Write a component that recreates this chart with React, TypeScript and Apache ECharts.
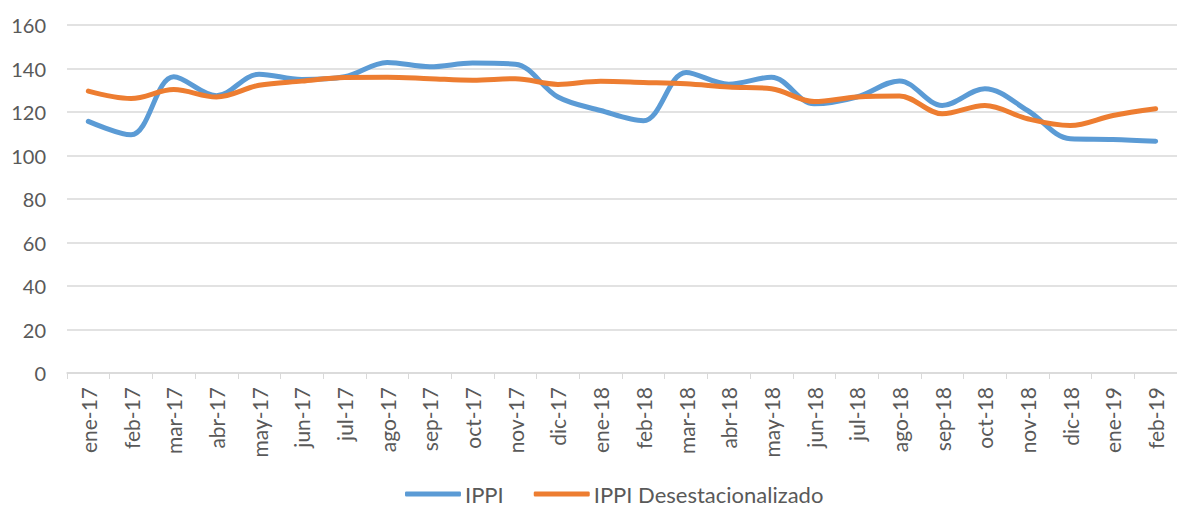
import React, { useEffect, useRef } from "react";
import * as echarts from "echarts";

const categories = [
  "ene-17", "feb-17", "mar-17", "abr-17", "may-17", "jun-17", "jul-17", "ago-17", "sep-17", "oct-17", "nov-17", "dic-17",
  "ene-18", "feb-18", "mar-18", "abr-18", "may-18", "jun-18", "jul-18", "ago-18", "sep-18", "oct-18", "nov-18", "dic-18",
  "ene-19", "feb-19",
];

const ippi = [
  115.7, 109.5, 136.2, 127.5, 137.4, 135.0, 136.2, 142.8, 140.8, 142.5, 142.0, 126.9,
  120.7, 116.0, 138.2, 132.8, 136.0, 123.8, 126.9, 134.3, 123.0, 130.7, 120.7, 107.7,
  107.4, 106.6,
];

const ippiDesest = [
  129.6, 126.2, 130.3, 126.9, 132.3, 134.2, 135.9, 136.0, 135.3, 134.6, 135.3, 132.7,
  134.1, 133.6, 133.0, 131.5, 130.7, 124.8, 126.9, 127.4, 119.2, 123.0, 116.9, 113.8,
  118.4, 121.5,
];

const seriesNames = ["IPPI", "IPPI Desestacionalizado"];

export default function App() {
  const ref = useRef<HTMLDivElement>(null);
  useEffect(() => {
    if (!ref.current) return;
    const chart = echarts.init(ref.current, null, { renderer: "svg" });
    const font = "Lato, 'Open Sans', sans-serif";
    chart.setOption({
      animation: false,
      backgroundColor: "#ffffff",
      textStyle: { fontFamily: font },
      grid: { left: 67, right: -13, top: 25, bottom: 137, containLabel: false },
      legend: {
        bottom: 0,
        left: 400,
        itemWidth: 56,
        itemHeight: 5,
        itemGap: 30,
        icon: "roundRect",
        textStyle: { fontSize: 22, color: "#595959", fontFamily: font, padding: [0, 0, 0, -1] },
        data: seriesNames,
      },
      xAxis: {
        type: "category",
        data: categories,
        boundaryGap: true,
        axisLine: { lineStyle: { color: "#D9D9D9", width: 1.5 } },
        axisTick: { show: true, length: 6, lineStyle: { color: "#D9D9D9" }, alignWithLabel: false },
        axisLabel: { rotate: 90, interval: 0, fontSize: 21, color: "#595959", margin: 14, fontFamily: font },
        splitLine: { show: false },
      },
      yAxis: {
        type: "value",
        min: 0,
        max: 160,
        interval: 20,
        axisLine: { show: false },
        axisTick: { show: false },
        axisLabel: { fontSize: 20, color: "#595959", margin: 21, fontFamily: font },
        splitLine: { lineStyle: { color: "#D9D9D9", width: 1.5 } },
      },
      series: [
        {
          name: seriesNames[0],
          type: "line",
          data: ippi,
          smooth: 0.35,
          symbol: "none",
          lineStyle: { width: 5, color: "#5B9BD5", cap: "round" },
          itemStyle: { color: "#5B9BD5" },
          z: 2,
        },
        {
          name: seriesNames[1],
          type: "line",
          data: ippiDesest,
          smooth: 0.35,
          symbol: "none",
          lineStyle: { width: 5, color: "#ED7D31", cap: "round" },
          itemStyle: { color: "#ED7D31" },
          z: 3,
        },
      ],
    });
    return () => chart.dispose();
  }, []);
  return (
    <div
      ref={ref}
      style={{ position: "fixed", left: 0, top: 0, width: 1177, height: 510, overflow: "hidden" }}
    />
  );
}
